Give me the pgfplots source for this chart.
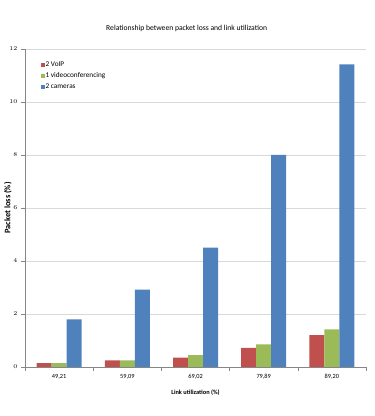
\documentclass[border=0pt]{standalone}
\usepackage{fontspec}
\setmainfont{Carlito}
\usepackage{pgfplots}
\pgfplotsset{compat=1.18}

\definecolor{voip}{HTML}{C0504D}
\definecolor{video}{HTML}{9BBB59}
\definecolor{cams}{HTML}{4F81BD}
\definecolor{gridgray}{HTML}{D9D9D9}
\definecolor{axisgray}{HTML}{868686}

\begin{document}
\begin{tikzpicture}
\useasboundingbox (0,0) rectangle (11.22cm,12.48cm);
\node[font=\fontsize{6.5}{7}\selectfont] at (5.6cm,11.64cm) {Relationship between packet loss and link utilization};
\begin{axis}[
    at={(0.75cm,1.47cm)}, anchor=south west,
    scale only axis,
    width=10.23cm, height=9.54cm,
    ybar=0pt, bar width=0.45cm,
    xmin=-0.5, xmax=4.5,
    ymin=0, ymax=12,
    ytick={0,2,...,12},
    xtick={0,1,2,3,4},
    xticklabels={{49,21},{59,09},{69,02},{79,89},{89,20}},
    minor xtick={-0.5,0.5,...,4.5},
    major x tick style={draw=none},
    minor x tick style={axisgray},
    y tick style={axisgray},
    tick align=outside,
    major tick length=3pt, minor tick length=3pt,
    axis x line*=bottom, axis y line*=left,
    axis line style={axisgray, -},
    ymajorgrids, grid style={gridgray, line width=0.6pt},
    tick label style={font=\fontsize{5.4}{6}\selectfont},
    xlabel={\textbf{Link utilization (\%)}},
    ylabel={\textbf{Packet loss (\%)}},
    xlabel style={font=\fontsize{5.4}{6}\selectfont,
        at={(axis description cs:0.5,-0.082)}, anchor=center},
    ylabel style={font=\fontsize{7.2}{8}\selectfont,
        at={(axis description cs:-0.05,0.5)}, anchor=center},
    legend style={draw=none, fill=none, at={(0.046,0.962)}, anchor=north west,
        font=\fontsize{6.2}{7}\selectfont, row sep=2.4pt, inner sep=0pt,
        nodes={inner sep=0.6pt}},
    legend cell align=left,
    legend image code/.code={\fill[#1] (0cm,-0.065cm) rectangle (0.12cm,0.065cm);},
]
\addplot[fill=voip, draw=none] coordinates {(0,0.15) (1,0.25) (2,0.35) (3,0.72) (4,1.20)};
\addlegendentry{2 VoIP}
\addplot[fill=video, draw=none] coordinates {(0,0.15) (1,0.25) (2,0.45) (3,0.85) (4,1.42)};
\addlegendentry{1 videoconferencing}
\addplot[fill=cams, draw=none] coordinates {(0,1.80) (1,2.92) (2,4.50) (3,8.00) (4,11.42)};
\addlegendentry{2 cameras}
\end{axis}
\end{tikzpicture}
\end{document}
